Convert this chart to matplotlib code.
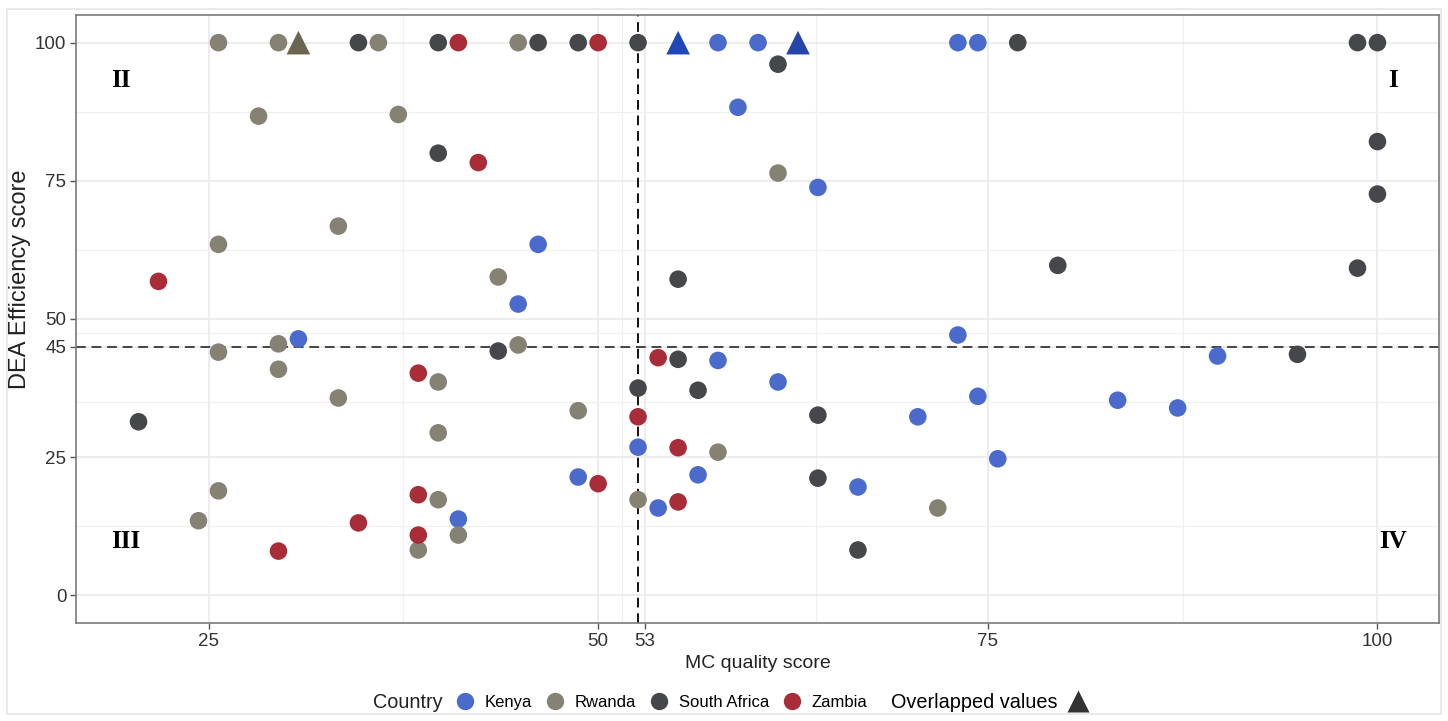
import matplotlib
matplotlib.use("Agg")
import matplotlib.pyplot as plt
from matplotlib.lines import Line2D
from matplotlib.patches import Rectangle
from matplotlib.ticker import FixedLocator

plt.rcParams['font.family'] = ['Liberation Sans', 'DejaVu Sans']

# MC quality score (x) and DEA efficiency score (y) per facility, by country
kenya_x = [57.69, 60.26, 73.08, 74.36, 58.97, 64.10, 46.15, 44.87, 30.77, 73.08,
           57.69, 89.74, 61.54, 74.36, 83.33, 87.18, 70.51, 52.56, 75.64, 56.41,
           48.72, 66.67, 53.85, 41.03]
kenya_y = [100, 100, 100, 100, 88.3, 73.8, 63.5, 52.7, 46.4, 47.1,
           42.5, 43.3, 38.6, 36.0, 35.3, 33.9, 32.3, 26.8, 24.7, 21.8,
           21.4, 19.6, 15.8, 13.8]

rwanda_x = [25.64, 29.49, 35.90, 44.87, 28.21, 37.18, 61.54, 33.33, 25.64, 43.59,
            29.49, 44.87, 25.64, 29.49, 39.74, 33.33, 48.72, 39.74, 57.69, 25.64,
            39.74, 52.56, 71.79, 24.36, 41.03, 38.46]
rwanda_y = [100, 100, 100, 100, 86.7, 87.0, 76.4, 66.8, 63.5, 57.6,
            45.5, 45.3, 44.0, 40.9, 38.6, 35.7, 33.4, 29.4, 25.9, 18.9,
            17.3, 17.3, 15.8, 13.5, 10.9, 8.2]

safrica_x = [34.62, 39.74, 46.15, 48.72, 52.56, 76.92, 98.72, 100.0, 61.54, 39.74,
             100.0, 100.0, 55.13, 79.49, 98.72, 43.59, 55.13, 94.87, 52.56, 56.41,
             64.10, 20.51, 64.10, 66.67]
safrica_y = [100, 100, 100, 100, 100, 100, 100, 100, 96.1, 80.0,
             82.1, 72.6, 57.2, 59.7, 59.2, 44.2, 42.7, 43.6, 37.5, 37.1,
             32.6, 31.4, 21.2, 8.2]

zambia_x = [41.03, 50.00, 42.31, 21.79, 53.85, 38.46, 52.56, 55.13, 50.00, 38.46,
            55.13, 34.62, 38.46, 29.49]
zambia_y = [100, 100, 78.3, 56.8, 43.0, 40.2, 32.3, 26.7, 20.2, 18.2,
            16.9, 13.1, 10.9, 8.0]

# overlapped values (triangles)
overlap_x = [30.77, 55.13, 62.82]
overlap_y = [100, 100, 100]
overlap_colors = ['#6b6650', '#1f47b8', '#2545a8']

mc_cut = 52.56
dea_cut = 45

countries = ['Kenya', 'Rwanda', 'South Africa', 'Zambia']
colors = ['#4a6bcc', '#858173', '#45474b', '#a82d38']

fig = plt.figure(figsize=(14.48, 7.21), dpi=100)
fig.patches.append(Rectangle((0.005, 0.01), 0.99, 0.978, transform=fig.transFigure,
                             fill=False, edgecolor='#e6e6e6', linewidth=1.2))
ax = fig.add_axes([0.0525, 0.136, 0.9413, 0.8432])

series = [(kenya_x, kenya_y), (rwanda_x, rwanda_y), (safrica_x, safrica_y), (zambia_x, zambia_y)]
for (xs, ys), c in zip(series, colors):
    ax.scatter(xs, ys, s=160, color=c, edgecolors='none', zorder=3)
ax.scatter(overlap_x, overlap_y, s=290, marker='^', color=overlap_colors,
           edgecolors='none', zorder=3)

ax.axvline(mc_cut, color='#111111', linestyle=(0, (5, 3)), linewidth=1.4, zorder=2)
ax.axhline(dea_cut, color='#444444', linestyle=(0, (5, 3)), linewidth=1.4, zorder=2)

ax.set_xlim(16.5, 103.95)
ax.set_ylim(-5, 105)
ax.set_xticks([25, 50, 53, 75, 100])
ax.set_yticks([0, 25, 45, 50, 75, 100])
ax.xaxis.set_minor_locator(FixedLocator([37.5, 51.5, 64, 87.5]))
ax.yaxis.set_minor_locator(FixedLocator([12.5, 35, 47.5, 62.5, 87.5]))
ax.grid(which='major', color='#e8e8e8', linewidth=1.1, zorder=0)
ax.grid(which='minor', color='#f0f0f0', linewidth=0.9, zorder=0)
ax.set_axisbelow(True)
ax.tick_params(which='major', length=4, width=1, color='#555555',
               labelsize=13.5, labelcolor='#333333', pad=3)
ax.tick_params(which='minor', length=0)
for sp in ax.spines.values():
    sp.set_color('#7a7a7a')
    sp.set_linewidth(1.2)

ax.set_xlabel('MC quality score', fontsize=14, color='#222222', labelpad=4)
ax.set_ylabel('DEA Efficiency score', fontsize=17, color='#222222')
ax.yaxis.set_label_coords(-0.033, 0.566)

quad = dict(fontsize=18, fontweight='bold', family='Liberation Serif',
            ha='center', va='center', color='black')
ax.text(19.4, 93.2, 'II', **quad)
ax.text(101.0, 93.2, 'I', **quad)
ax.text(19.7, 9.7, 'III', **quad)
ax.text(101.0, 9.7, 'IV', **quad)

# legend row
fig.text(0.2575, 0.025, 'Country', fontsize=14.3, color='#222222', va='center')
handles = [Line2D([], [], marker='o', linestyle='none', markersize=12.5,
                  markerfacecolor=c, markeredgecolor='none') for c in colors]
fig.legend(handles, countries, ncol=4, loc='center left', bbox_to_anchor=(0.316, 0.026),
           frameon=False, fontsize=12, handlelength=0.9, handletextpad=0.75,
           columnspacing=0.9, borderpad=0, borderaxespad=0)
tri = Line2D([], [], marker='^', linestyle='none', markersize=16,
             markerfacecolor='#333333', markeredgecolor='none')
fig.legend([tri], ['Overlapped values'], loc='center left', bbox_to_anchor=(0.6155, 0.026),
           frameon=False, fontsize=14.3, markerfirst=False, handlelength=1.0,
           handletextpad=0.5, borderpad=0, borderaxespad=0)

fig.savefig('out.png', dpi=100)
